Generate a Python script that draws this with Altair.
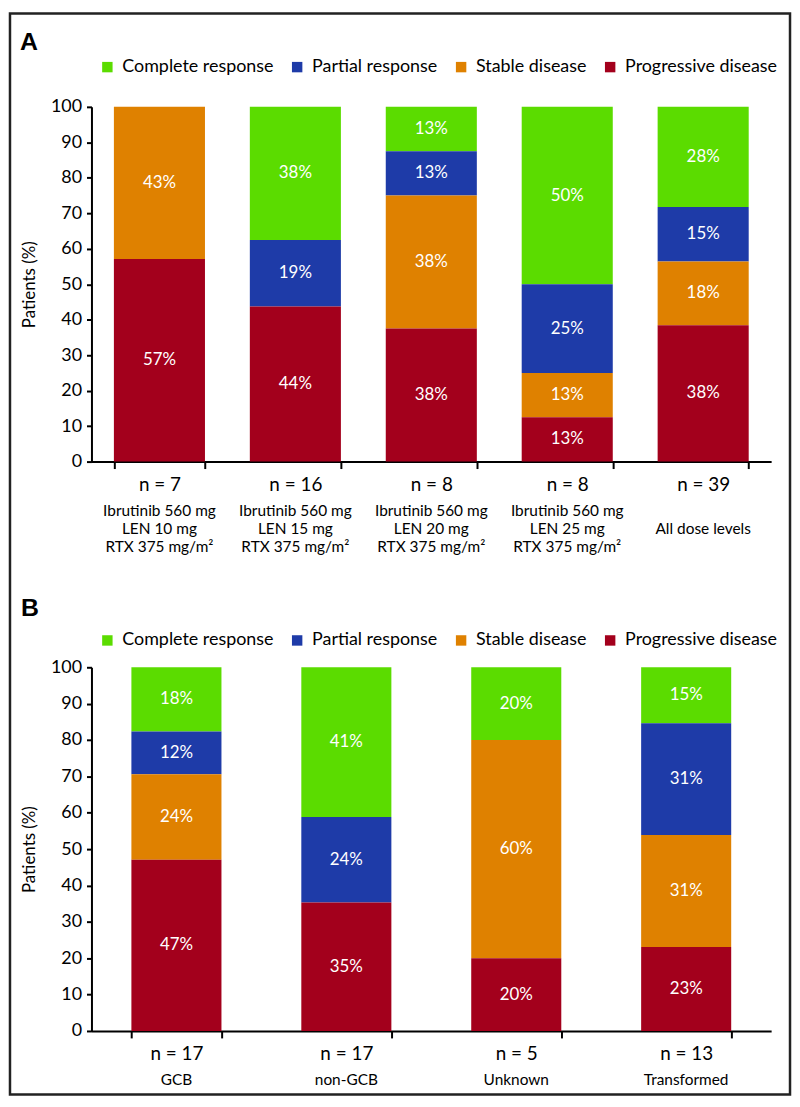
import altair as alt
import pandas as pd

FONT = "Lato"

statuses = ["Complete response", "Partial response", "Stable disease", "Progressive disease"]
status_colors = ["#5BDC00", "#1E3BA8", "#DF8100", "#A3001C"]
stack_rank = [3, 2, 1, 0]

# Panel A: dose levels
a_keys = [
    "Ibrutinib 560 mg|LEN 10 mg|RTX 375 mg/m²",
    "Ibrutinib 560 mg|LEN 15 mg|RTX 375 mg/m²",
    "Ibrutinib 560 mg|LEN 20 mg|RTX 375 mg/m²",
    "Ibrutinib 560 mg|LEN 25 mg|RTX 375 mg/m²",
    "|All dose levels",
]
a_n = ["n = 7", "n = 16", "n = 8", "n = 8", "n = 39"]
a_complete = [0, 37.5, 12.5, 50.0, 28.21]
a_partial = [0, 18.75, 12.5, 25.0, 15.38]
a_stable = [42.86, 0, 37.5, 12.5, 17.95]
a_progressive = [57.14, 43.75, 37.5, 12.5, 38.46]

# Panel B: cell of origin
b_keys = ["GCB", "non-GCB", "Unknown", "Transformed"]
b_n = ["n = 17", "n = 17", "n = 5", "n = 13"]
b_complete = [17.65, 41.18, 20.0, 15.38]
b_partial = [11.76, 23.53, 0, 30.77]
b_stable = [23.53, 0, 60.0, 30.77]
b_progressive = [47.06, 35.29, 20.0, 23.08]

y_ticks = list(range(0, 101, 10))


def long_df(keys, series):
    rows = []
    for s, vals, rank in zip(statuses, series, stack_rank):
        for k, v in zip(keys, vals):
            rows.append({"key": k, "status": s, "value": v, "rank": rank,
                         "label": f"{int(v + 0.5)}%"})
    return pd.DataFrame(rows)


def make_panel(letter, keys, n_labels, series, width, height, pad_inner,
               legend_y, letter_xy, desc_y, frame=None):
    df = long_df(keys, series)
    arr_keys = "[" + ",".join("'" + k + "'" for k in keys) + "]"
    arr_n = "[" + ",".join("'" + n + "'" for n in n_labels) + "]"
    label_expr = f"{arr_n}[indexof({arr_keys}, datum.value)]"

    x_enc = alt.X(
        "key:N", sort=keys, title=None,
        scale=alt.Scale(paddingInner=pad_inner, paddingOuter=pad_inner / 2),
        axis=alt.Axis(labelExpr=label_expr, labelAngle=0, labelFont=FONT,
                      labelFontSize=19, labelColor="black", labelPadding=7,
                      tickSize=7, tickWidth=2, tickColor="black",
                      domainColor="black", domainWidth=2, tickBand="extent",
                      labelLimit=400, grid=False),
    )
    y_axis = alt.Axis(values=y_ticks, title="Patients (%)", titleFont=FONT,
                      titleFontSize=17, titleFontWeight="normal", titleColor="black",
                      titlePadding=12, labelFont=FONT, labelFontSize=18,
                      labelColor="black", labelPadding=5, tickSize=5, tickWidth=2,
                      tickColor="black", domainColor="black", domainWidth=2,
                      grid=False)
    y_scale = alt.Scale(domain=[0, 100], nice=False)

    bars = alt.Chart(df).mark_bar().encode(
        x=x_enc,
        y=alt.Y("value:Q", stack="zero", scale=y_scale, axis=y_axis),
        color=alt.Color(
            "status:N",
            scale=alt.Scale(domain=statuses, range=status_colors),
            legend=alt.Legend(orient="none", legendX=7, legendY=legend_y,
                              direction="horizontal", columns=4, title=None,
                              symbolType="square", symbolSize=110,
                              symbolStrokeWidth=0, labelFont=FONT,
                              labelFontSize=18, labelColor="black",
                              labelOffset=6, columnPadding=14, padding=0,
                              labelLimit=300),
        ),
        order=alt.Order("rank:Q", sort="ascending"),
    )

    texts = alt.Chart(df).transform_filter("datum.value > 0").transform_stack(
        stack="value", groupby=["key"],
        sort=[alt.SortField("rank", order="ascending")], as_=["v0", "v1"],
    ).transform_calculate(mid="(datum.v0 + datum.v1) / 2").mark_text(
        color="white", font=FONT, fontSize=17, baseline="middle"
    ).encode(
        x=x_enc,
        y=alt.Y("mid:Q", scale=y_scale, axis=y_axis),
        text="label:N",
    )

    desc = alt.Chart(pd.DataFrame({"key": keys})).mark_text(
        lineBreak="|", font=FONT, fontSize=15.5, lineHeight=18,
        baseline="middle", color="black"
    ).encode(x=x_enc, y=alt.value(height + desc_y), text="key:N")

    letter_mark = alt.Chart(pd.DataFrame({"t": [letter]})).mark_text(
        font="Liberation Sans", fontSize=25, fontWeight="bold", color="black",
        align="center", baseline="middle"
    ).encode(x=alt.value(letter_xy[0]), y=alt.value(letter_xy[1]), text="t:N")

    layers = [bars, texts, desc, letter_mark]
    if frame is not None:
        frame_mark = alt.Chart(pd.DataFrame({"f": [0]})).mark_rect(
            filled=False, stroke="#222222", strokeWidth=2.5
        ).encode(x=alt.value(frame[0]), x2=alt.value(frame[1]),
                 y=alt.value(frame[2]), y2=alt.value(frame[3]))
        layers.append(frame_mark)

    return alt.layer(*layers).properties(width=width, height=height)


panel_a = make_panel("A", a_keys, a_n,
                     [a_complete, a_partial, a_stable, a_progressive],
                     684, 357, 0.33, -49, (-63, -65), 50,
                     frame=(-82, 703, -94, 994))
panel_b = make_panel("B", b_keys, b_n,
                     [b_complete, b_partial, b_stable, b_progressive],
                     684, 366, 0.47, -36, (-62, -60), 49)

chart = alt.vconcat(panel_a, panel_b, spacing=207, bounds="flush").resolve_scale(
    color="independent", x="independent", y="independent"
).resolve_legend(color="independent").properties(
    padding={"left": 0, "top": 0, "right": 0, "bottom": 0},
    autosize=alt.AutoSizeParams(type="pad"),
    background="white",
).configure(padding=0).configure_view(strokeWidth=0)

chart.save("out.html", embed_options={"renderer": "svg", "actions": False})
